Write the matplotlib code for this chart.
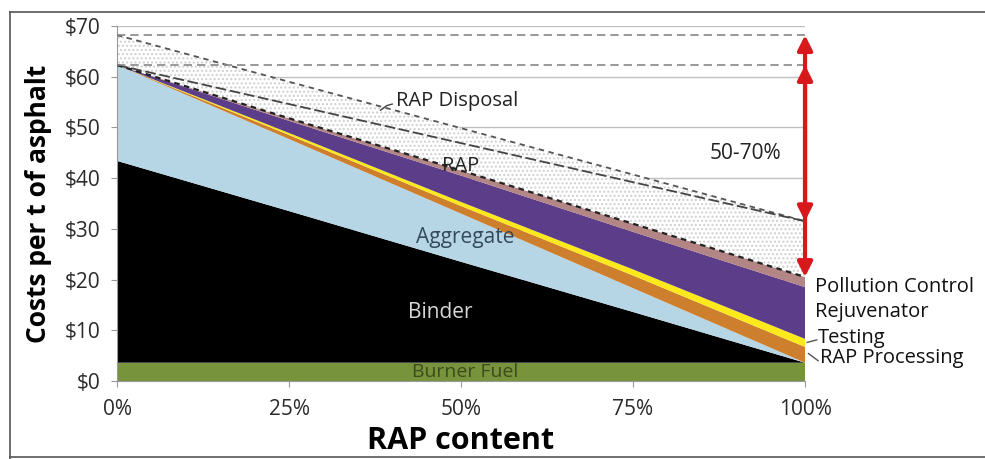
import numpy as np
import matplotlib.pyplot as plt
from matplotlib.lines import Line2D

plt.rcParams['font.family'] = ['Open Sans', 'DejaVu Sans']

# RAP content (%)
rap_pct = [0, 25, 50, 75, 100]
x_ticks = [0, 25, 50, 75, 100]
x_labels = ['0%', '25%', '50%', '75%', '100%']
y_ticks = [0, 10, 20, 30, 40, 50, 60, 70]
y_labels = ['$0', '$10', '$20', '$30', '$40', '$50', '$60', '$70']

# cost layers, $ per t of asphalt (stacked, bottom to top)
burner_fuel = [3.6, 3.6, 3.6, 3.6, 3.6]
binder = [39.8, 29.9, 19.9, 10.0, 0.0]
aggregate = [18.9, 14.2, 9.5, 4.7, 0.0]
rap_processing = [0.0, 0.8, 1.5, 2.5, 3.1]
testing = [0.0, 0.4, 0.8, 1.2, 1.6]
rejuvenator = [0.0, 2.4, 5.2, 7.4, 10.2]
pollution_control = [0.0, 0.5, 1.0, 1.6, 2.0]
rap_cost = [0.0, 2.8, 5.4, 8.2, 11.0]
rap_disposal = [5.9, 4.4, 2.95, 1.5, 0.0]

# reference levels at 0% RAP
ref_levels = [68.2, 62.3]

layers = [burner_fuel, binder, aggregate, rap_processing, testing,
          rejuvenator, pollution_control]
colors = ['#77933c', '#000000', '#b6d6e6', '#cd7f2e', '#fbe91c',
          '#5b3d8a', '#b38585']

fig = plt.figure(figsize=(9.85, 4.59), dpi=100)
ax = fig.add_axes([0.1188, 0.170, 0.6985, 0.7734])

ax.stackplot(rap_pct, *layers, colors=colors, linewidth=0, zorder=2)

total = np.sum(np.array(layers), axis=0)
middle = total + np.array(rap_cost)
upper = middle + np.array(rap_disposal)

# dotted RAP / RAP disposal region
ax.fill_between(rap_pct, total, upper, facecolor='white', edgecolor='#cfcfcf',
                hatch='....', linewidth=0, zorder=2)

ax.plot(rap_pct, upper, color='#555555', lw=1.3, dashes=(3, 2.5), zorder=3)
ax.plot(rap_pct, middle, color='#444444', lw=1.3, dashes=(6, 2), zorder=3)
ax.plot(rap_pct, total, color='#222222', lw=1.6, dashes=(2.5, 2), zorder=3)

for lvl in ref_levels:
    ax.plot([0, 100], [lvl, lvl], color='#888888', lw=1.2, dashes=(5, 3), zorder=3)

# red savings arrows
for top, bot in [(ref_levels[0], upper[-1]), (ref_levels[1], total[-1])]:
    ax.annotate('', xy=(100, top), xytext=(100, bot),
                arrowprops=dict(arrowstyle='<|-|>', color='#d7191c', lw=3,
                                mutation_scale=22, shrinkA=0, shrinkB=0),
                zorder=5)

ax.set_xlim(0, 100)
ax.set_ylim(0, 70)
ax.set_xticks(x_ticks)
ax.set_xticklabels(x_labels)
ax.set_yticks(y_ticks)
ax.set_yticklabels(y_labels)
ax.tick_params(labelsize=15, colors='#999999', labelcolor='#2a2a2a', length=4)
ax.tick_params(axis='x', pad=9)
ax.tick_params(axis='y', pad=8)
ax.grid(axis='y', color='#c0c0c0', lw=1)
ax.set_axisbelow(True)
for s in ['top', 'right']:
    ax.spines[s].set_visible(False)
for s in ['left', 'bottom']:
    ax.spines[s].set_color('#999999')

ax.set_xlabel('RAP content', fontsize=22, fontweight='bold', labelpad=4)
ax.set_ylabel('Costs per t of asphalt', fontsize=19, fontweight='bold', labelpad=9)

# labels in the chart
ax.text(40.5, 55.2, 'RAP Disposal', fontsize=14.5, va='center', color='#222222')
ax.plot([38.3, 39.2, 40.0], [53.4, 54.3, 54.6], color='#444444', lw=1)
ax.text(50, 42.4, 'RAP', fontsize=14.5, ha='center', va='center', color='#222222')
ax.text(50.6, 28.2, 'Aggregate', fontsize=15, ha='center', va='center', color='#34495a')
ax.text(47, 13.6, 'Binder', fontsize=15, ha='center', va='center', color='#d8d8d8')
ax.text(50.6, 1.8, 'Burner Fuel', fontsize=14, ha='center', va='center', color='#3f4a1c')
ax.text(91.3, 44.8, '50-70%', fontsize=15, ha='center', va='center', color='#222222')

ax.text(101.4, 18.6, 'Pollution Control', fontsize=14.5, va='center', color='#111111')
ax.text(101.4, 13.6, 'Rejuvenator', fontsize=14.5, va='center', color='#111111')
ax.text(101.8, 8.5, 'Testing', fontsize=14.5, va='center', color='#111111')
ax.text(102.2, 4.5, 'RAP Processing', fontsize=14.5, va='center', color='#111111')
ax.plot([100.3, 101.7], [7.6, 8.1], color='#555555', lw=1, clip_on=False)
ax.plot([100.5, 101.9], [5.4, 4.0], color='#555555', lw=1, clip_on=False)

# outer frame
fx0, fy1 = 10 / 985, 1 - 12 / 459
fig.add_artist(Line2D([fx0, 1], [fy1, fy1], color='#555555', lw=1.2))
fig.add_artist(Line2D([fx0, fx0], [0, fy1], color='#555555', lw=1.2))
fig.add_artist(Line2D([fx0, 1], [0.004, 0.004], color='#555555', lw=1.2))

fig.savefig('out.png', dpi=100)
